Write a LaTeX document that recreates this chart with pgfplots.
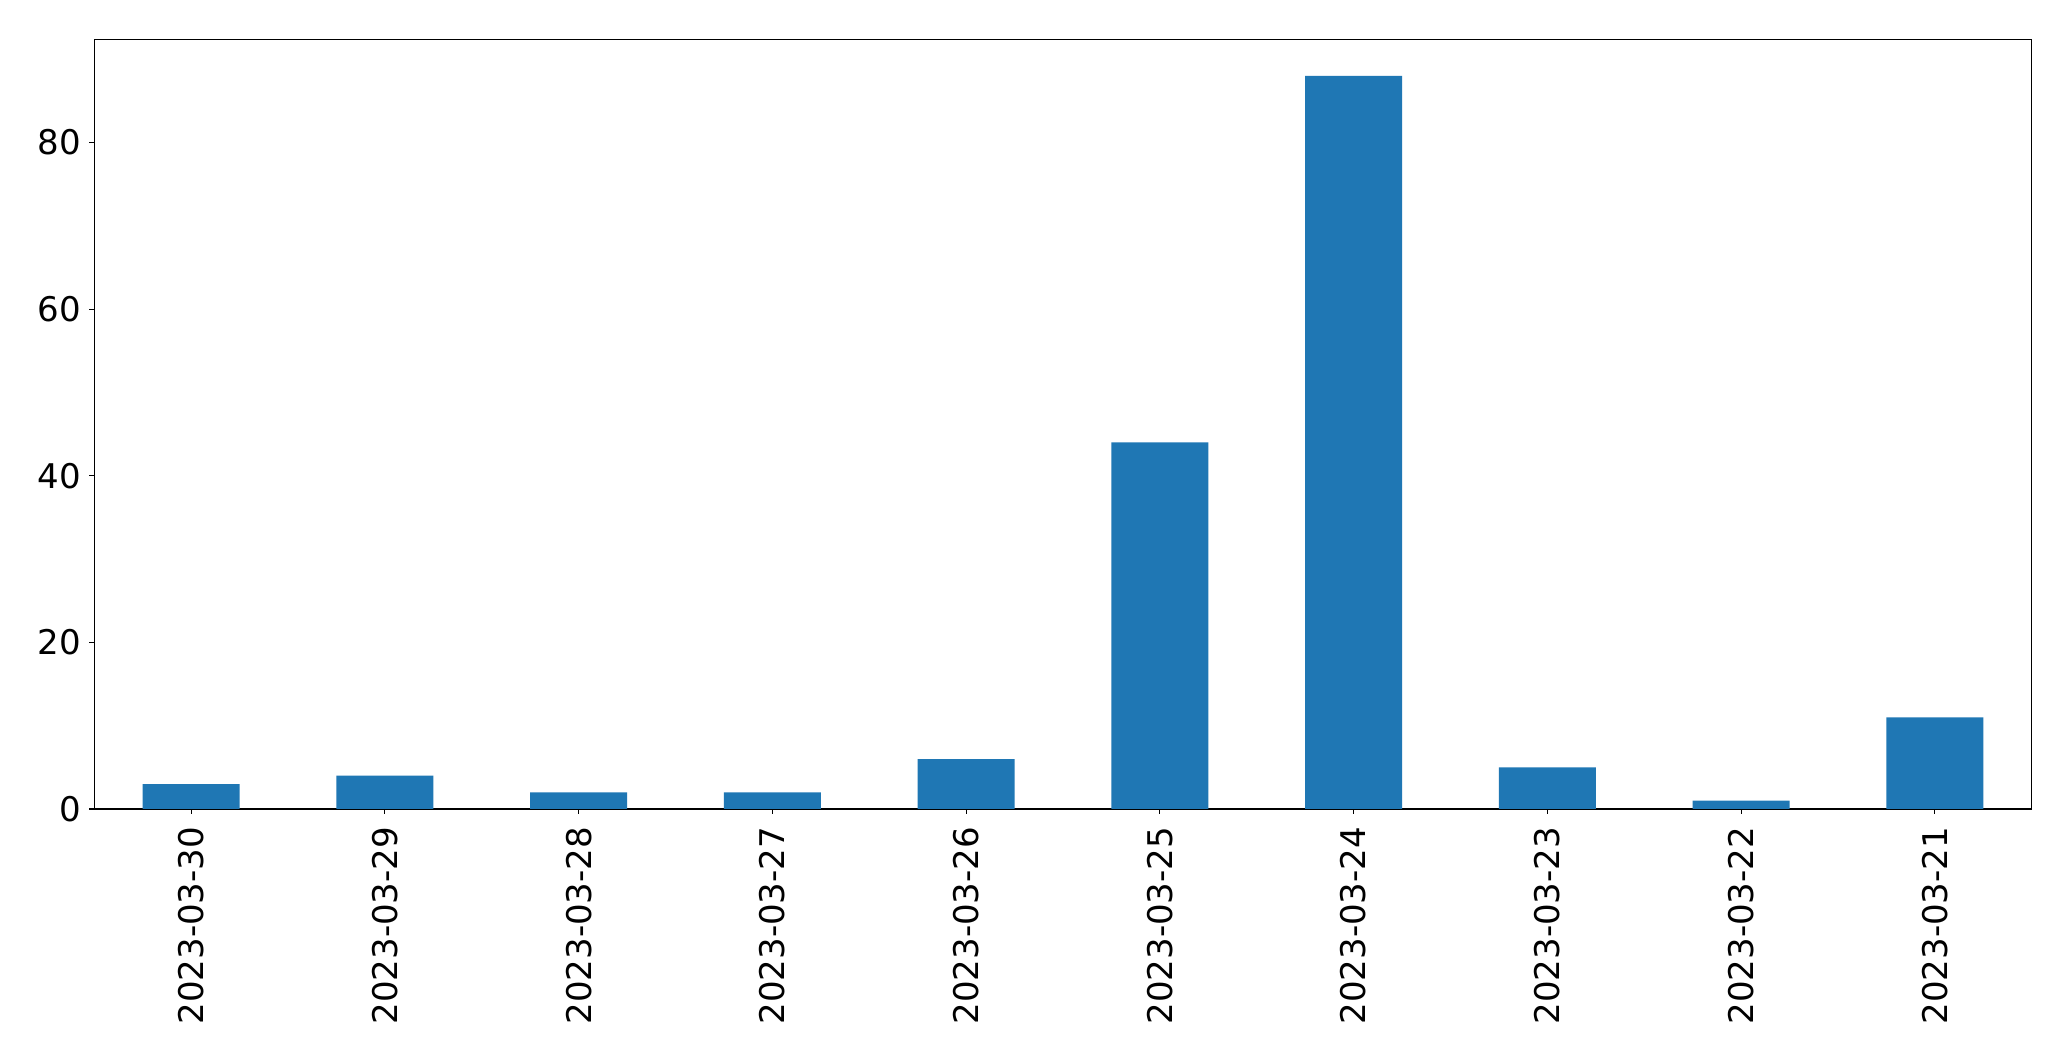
\documentclass[border=0pt]{standalone}
\usepackage{pgfplots}
\pgfplotsset{compat=1.18}
\usetikzlibrary{calc}
\usepackage{fontspec}
\setmainfont{DejaVu Sans}
\definecolor{mplblue}{HTML}{1F77B4}
\begin{document}
\begin{tikzpicture}
\begin{axis}[
  name=ax,
  scale only axis,
  width=968.7pt, height=384.85pt,
  xmin=-0.5, xmax=9.5,
  ymin=0, ymax=92.4,
  xtick={0,...,9},
  xticklabels={2023-03-30,2023-03-29,2023-03-28,2023-03-27,2023-03-26,2023-03-25,2023-03-24,2023-03-23,2023-03-22,2023-03-21},
  ytick={0,20,40,60,80},
  tick label style={font=\fontsize{17}{20}\selectfont},
  /pgf/number format/assume math mode=true,
  xticklabel style={rotate=90, anchor=east, inner xsep=6.3pt},
  yticklabel style={inner xsep=4pt},
  tick align=outside,
  tick pos=left,
  major tick length=2.43pt,
  every tick/.style={black, line width=0.56pt},
  axis line style={line width=0.56pt},
  xtick style={black}, ytick style={black},
  axis background/.style={fill=white},
]
\addplot[ybar, bar width=0.5, fill=mplblue, draw=none] coordinates {
(0,3) (1,4) (2,2) (3,2) (4,6) (5,44) (6,88) (7,5) (8,1) (9,11)
};
\end{axis}
\path ($(ax.south west)+(-47.15pt,-126pt)$) rectangle ($(ax.north east)+(19.65pt,19.65pt)$);
\end{tikzpicture}
\end{document}
